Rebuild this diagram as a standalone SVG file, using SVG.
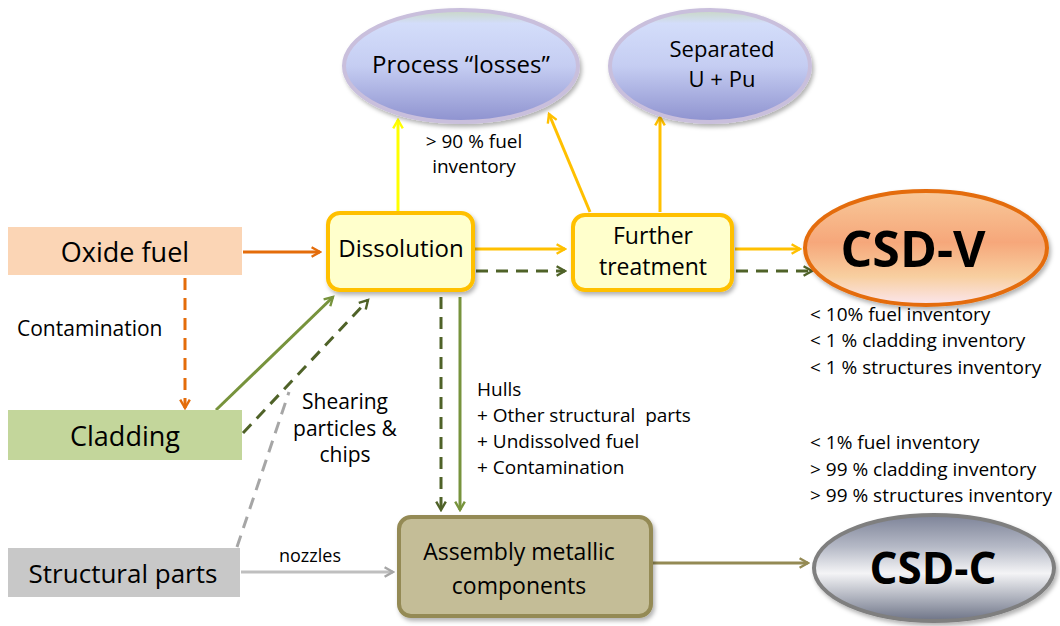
<svg xmlns="http://www.w3.org/2000/svg" width="1060" height="626" viewBox="0 0 1060 626">
<style>
text{font-family:"Open Sans","Liberation Sans",sans-serif;fill:#000}
.lbl{font-size:19px}
.note{font-size:19px}
.c{fill:none;stroke-width:3}
.dash{stroke-dasharray:12 8}
</style>
<defs>
<linearGradient id="gBlue" x1="0" y1="0" x2="0" y2="1">
<stop offset="0" stop-color="#c9d8c4"/><stop offset="0.12" stop-color="#d3ddfa"/><stop offset="0.5" stop-color="#c5cdf2"/><stop offset="1" stop-color="#8e92cf"/>
</linearGradient>
<linearGradient id="gOrange" x1="0" y1="0" x2="0" y2="1">
<stop offset="0" stop-color="#f8c99a"/><stop offset="0.45" stop-color="#f6a77a"/><stop offset="0.75" stop-color="#f8cfa0"/><stop offset="1" stop-color="#fbe6ee"/>
</linearGradient>
<linearGradient id="gGray" x1="0" y1="0" x2="0" y2="1">
<stop offset="0" stop-color="#7d8398"/><stop offset="0.3" stop-color="#b5b9c6"/><stop offset="0.55" stop-color="#f4f4f6"/><stop offset="0.8" stop-color="#a9adb9"/><stop offset="1" stop-color="#6d7386"/>
</linearGradient>
<filter id="sh" x="-10%" y="-10%" width="125%" height="130%">
<feDropShadow dx="2" dy="3" stdDeviation="2" flood-color="#000" flood-opacity="0.3"/>
</filter>
<marker id="aOr" viewBox="0 0 10 10" refX="8" refY="5" markerWidth="4" markerHeight="4" orient="auto" markerUnits="strokeWidth"><path d="M1 1 L8 5 L1 9" fill="none" stroke="#e46c0a" stroke-width="2"/></marker>
<marker id="aYe" viewBox="0 0 10 10" refX="8" refY="5" markerWidth="4" markerHeight="4" orient="auto" markerUnits="strokeWidth"><path d="M1 1 L8 5 L1 9" fill="none" stroke="#ffff00" stroke-width="2"/></marker>
<marker id="aGo" viewBox="0 0 10 10" refX="8" refY="5" markerWidth="4" markerHeight="4" orient="auto" markerUnits="strokeWidth"><path d="M1 1 L8 5 L1 9" fill="none" stroke="#ffc000" stroke-width="2"/></marker>
<marker id="aGr" viewBox="0 0 10 10" refX="8" refY="5" markerWidth="4" markerHeight="4" orient="auto" markerUnits="strokeWidth"><path d="M1 1 L8 5 L1 9" fill="none" stroke="#77933c" stroke-width="2"/></marker>
<marker id="aDg" viewBox="0 0 10 10" refX="8" refY="5" markerWidth="4" markerHeight="4" orient="auto" markerUnits="strokeWidth"><path d="M1 1 L8 5 L1 9" fill="none" stroke="#4f6228" stroke-width="2"/></marker>
<marker id="aGy" viewBox="0 0 10 10" refX="8" refY="5" markerWidth="4" markerHeight="4" orient="auto" markerUnits="strokeWidth"><path d="M1 1 L8 5 L1 9" fill="none" stroke="#a6a6a6" stroke-width="2"/></marker>
<marker id="aOl" viewBox="0 0 10 10" refX="8" refY="5" markerWidth="4" markerHeight="4" orient="auto" markerUnits="strokeWidth"><path d="M1 1 L8 5 L1 9" fill="none" stroke="#948a54" stroke-width="2"/></marker>
</defs>
<rect width="1060" height="626" fill="#fff"/>

<g id="connectors">
<line class="c" x1="243" y1="252" x2="320" y2="252" stroke="#e46c0a" marker-end="url(#aOr)"/>
<line class="c dash" x1="185" y1="278" x2="185" y2="408" stroke="#e46c0a" marker-end="url(#aOr)"/>
<line class="c" x1="216" y1="410" x2="333" y2="297" stroke="#77933c" marker-end="url(#aGr)"/>
<line class="c dash" x1="243" y1="433" x2="368" y2="300" stroke="#4f6228" marker-end="url(#aDg)"/>
<line class="c dash" x1="237" y1="547" x2="289" y2="392" stroke="#a6a6a6"/>
<line class="c" x1="398" y1="211" x2="398" y2="120" stroke="#ffff00" marker-end="url(#aYe)"/>
<line class="c" x1="590" y1="212" x2="549" y2="114" stroke="#ffc000" marker-end="url(#aGo)"/>
<line class="c" x1="660" y1="212" x2="660" y2="117" stroke="#ffc000" marker-end="url(#aGo)"/>
<line class="c" x1="475" y1="249" x2="565" y2="249" stroke="#ffc000" marker-end="url(#aGo)"/>
<line class="c dash" x1="476" y1="271" x2="565" y2="271" stroke="#4f6228" marker-end="url(#aDg)"/>
<line class="c" x1="735" y1="249" x2="800" y2="249" stroke="#ffc000" marker-end="url(#aGo)"/>
<line class="c dash" x1="736" y1="271" x2="812" y2="271" stroke="#4f6228" marker-end="url(#aDg)"/>
<line class="c dash" x1="441" y1="297" x2="441" y2="510" stroke="#4f6228" marker-end="url(#aDg)"/>
<line class="c" x1="460" y1="297" x2="460" y2="510" stroke="#77933c" marker-end="url(#aGr)"/>
<line class="c" x1="241" y1="572" x2="393" y2="572" stroke="#bfbfbf" marker-end="url(#aGy)"/>
<line class="c" x1="653" y1="563" x2="808" y2="563" stroke="#948a54" marker-end="url(#aOl)"/>
</g>

<g id="process-losses">
<ellipse cx="461" cy="66" rx="117" ry="56" fill="url(#gBlue)" stroke="#c9bfdc" stroke-width="4" filter="url(#sh)"/>
<text x="461" y="73" font-size="24" text-anchor="middle">Process “losses”</text>
</g>
<g id="separated">
<ellipse cx="710" cy="66" rx="100" ry="56" fill="url(#gBlue)" stroke="#c9bfdc" stroke-width="4" filter="url(#sh)"/>
<text x="722" y="57" font-size="22" text-anchor="middle">Separated</text>
<text x="722" y="87" font-size="22" text-anchor="middle">U + Pu</text>
</g>
<g id="oxide-fuel">
<rect x="8" y="227" width="234" height="48" fill="#fbd5b5"/>
<text x="125" y="262" font-size="27" text-anchor="middle">Oxide fuel</text>
</g>
<g id="cladding">
<rect x="8" y="410" width="234" height="50" fill="#c3d69b"/>
<text x="125" y="446" font-size="27" text-anchor="middle">Cladding</text>
</g>
<g id="structural-parts">
<rect x="8" y="548" width="232" height="49" fill="#c8c8c8"/>
<text x="123" y="583" font-size="26" text-anchor="middle">Structural parts</text>
</g>
<g id="dissolution">
<rect x="328" y="213" width="145" height="77" rx="12" fill="#ffffcc" stroke="#ffc000" stroke-width="4" filter="url(#sh)"/>
<text x="401" y="257" font-size="24" text-anchor="middle">Dissolution</text>
</g>
<g id="further-treatment">
<rect x="573" y="215" width="159" height="75" rx="12" fill="#ffffcc" stroke="#ffc000" stroke-width="4" filter="url(#sh)"/>
<text x="653" y="244" font-size="23" text-anchor="middle">Further</text>
<text x="653" y="275" font-size="23" text-anchor="middle">treatment</text>
</g>
<g id="csd-v">
<ellipse cx="926" cy="248" rx="121" ry="57" fill="url(#gOrange)" stroke="#e46c0a" stroke-width="4" filter="url(#sh)"/>
<text x="913" y="267" font-size="50" font-weight="bold" text-anchor="middle">CSD-V</text>
</g>
<g id="assembly">
<rect x="399" y="517" width="252" height="99" rx="12" fill="#c4bd97" stroke="#948a54" stroke-width="4" filter="url(#sh)"/>
<text x="519" y="560" font-size="23" text-anchor="middle">Assembly metallic</text>
<text x="519" y="594" font-size="23" text-anchor="middle">components</text>
</g>
<g id="csd-c">
<ellipse cx="934" cy="568" rx="120" ry="53" fill="url(#gGray)" stroke="#7f7f7f" stroke-width="4" filter="url(#sh)"/>
<text x="933" y="584" font-size="44" font-weight="bold" text-anchor="middle">CSD-C</text>
</g>

<g id="labels">
<text class="lbl" x="474" y="148" text-anchor="middle">&gt; 90 % fuel</text>
<text class="lbl" x="474" y="173" text-anchor="middle">inventory</text>
<text x="17" y="336" font-size="21">Contamination</text>
<text x="345" y="409" font-size="21" text-anchor="middle">Shearing</text>
<text x="345" y="436" font-size="21" text-anchor="middle">particles &amp;</text>
<text x="345" y="462" font-size="21" text-anchor="middle">chips</text>
<text class="lbl" x="477" y="396">Hulls</text>
<text class="lbl" x="477" y="422" xml:space="preserve">+ Other structural  parts</text>
<text class="lbl" x="477" y="448">+ Undissolved fuel</text>
<text class="lbl" x="477" y="474">+ Contamination</text>
<text class="note" x="810" y="321">&lt; 10% fuel inventory</text>
<text class="note" x="810" y="347">&lt; 1 % cladding inventory</text>
<text class="note" x="810" y="374">&lt; 1 % structures inventory</text>
<text class="note" x="810" y="449">&lt; 1% fuel inventory</text>
<text class="note" x="810" y="476">&gt; 99 % cladding inventory</text>
<text class="note" x="810" y="502">&gt; 99 % structures inventory</text>
<text x="279" y="562" font-size="18">nozzles</text>
</g>
</svg>
